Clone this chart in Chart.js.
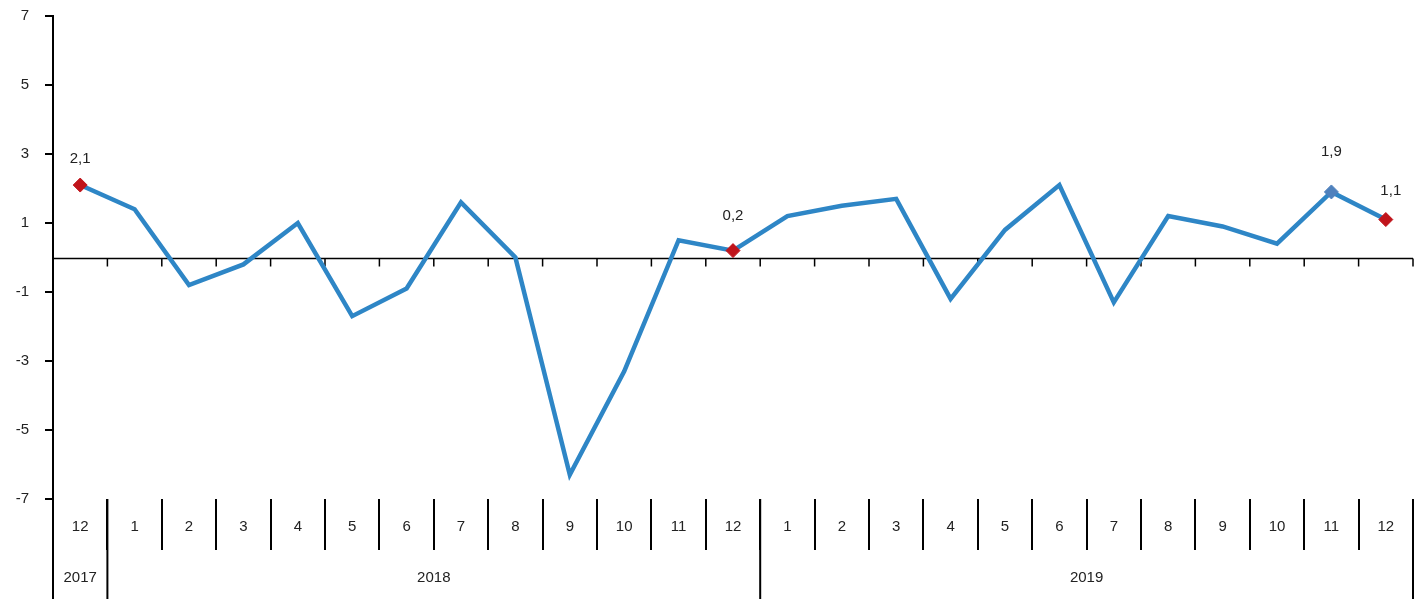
<!DOCTYPE html>
<html>
<head>
<meta charset="utf-8">
<script src="https://cdn.jsdelivr.net/npm/chart.js@4/dist/chart.umd.min.js"></script>
<style>
  html, body { margin: 0; padding: 0; background: #fff; }
  #wrap { width: 1425px; height: 599px; position: relative; }
</style>
</head>
<body>
<div id="wrap"><canvas id="grafico"></canvas></div>
<script>
// months, Dec 2017 .. Dec 2019
const meses = ["12", "1", "2", "3", "4", "5", "6", "7", "8", "9", "10", "11", "12",
               "1", "2", "3", "4", "5", "6", "7", "8", "9", "10", "11", "12"];
const anos = ["2017", "2018", "2019"];
const anoInicio = [0, 1, 13];   // first month index of each year
const valores = [2.1, 1.4, -0.8, -0.2, 1.0, -1.7, -0.9, 1.6, 0.0, -6.3, -3.3, 0.5, 0.2,
                 1.2, 1.5, 1.7, -1.2, 0.8, 2.1, -1.3, 1.2, 0.9, 0.4, 1.9, 1.1];
const destaques = [0, 12, 23, 24];   // points with marker + label

const azul = "#2E86C6";
const vermelho = "#C0141B";
const azulClaro = "#4F81BD";
const fonte = "'Liberation Sans', Arial, sans-serif";

// label offsets above the marker (px)
const offsetRotulo = { 0: 26, 12: 35, 23: 40, 24: 29 };

const corPonto = valores.map((v, i) => i === 23 ? azulClaro : vermelho);
const raioPonto = valores.map((v, i) => destaques.includes(i) ? 7 : 0);

function fronteira(x, i) {
  // pixel between category i and i+1
  if (i >= meses.length - 1) return x.right;
  return (x.getPixelForValue(i) + x.getPixelForValue(i + 1)) / 2;
}

const eixoZero = {
  id: "eixoZero",
  beforeDatasetsDraw(chart) {
    const { ctx, chartArea, scales: { x, y } } = chart;
    const y0 = Math.round(y.getPixelForValue(0)) + 0.5;
    ctx.save();
    ctx.strokeStyle = "#000";
    ctx.lineWidth = 1.5;
    ctx.beginPath();
    ctx.moveTo(chartArea.left, y0);
    ctx.lineTo(chartArea.right, y0);
    for (let i = 0; i < meses.length; i++) {
      const bx = fronteira(x, i);
      ctx.moveTo(bx, y0);
      ctx.lineTo(bx, y0 + 8);
    }
    ctx.stroke();
    ctx.restore();
  },
  afterDraw(chart) {
    const { ctx, chartArea, scales: { x } } = chart;
    const h = chart.height;
    ctx.save();
    ctx.strokeStyle = "#000";
    ctx.lineWidth = 2;
    ctx.beginPath();
    // y axis runs down through the category rows
    ctx.moveTo(chartArea.left, chartArea.bottom);
    ctx.lineTo(chartArea.left, h);
    // year separators
    for (let k = 0; k < anos.length; k++) {
      const fim = k + 1 < anos.length ? anoInicio[k + 1] - 1 : meses.length - 1;
      const bx = fronteira(x, fim);
      ctx.moveTo(bx, chartArea.bottom);
      ctx.lineTo(bx, h);
    }
    ctx.stroke();

    // year labels
    ctx.fillStyle = "#222";
    ctx.font = "15px " + fonte;
    ctx.textAlign = "center";
    ctx.textBaseline = "middle";
    for (let k = 0; k < anos.length; k++) {
      const ini = anoInicio[k];
      const fim = k + 1 < anos.length ? anoInicio[k + 1] - 1 : meses.length - 1;
      const esq = ini === 0 ? chartArea.left : fronteira(x, ini - 1);
      const dir = fronteira(x, fim);
      ctx.fillText(anos[k], (esq + dir) / 2, chartArea.bottom + 79);
    }

    // data labels
    const meta = chart.getDatasetMeta(0);
    ctx.font = "15px " + fonte;
    destaques.forEach(i => {
      const p = meta.data[i];
      const txt = valores[i].toFixed(1).replace(".", ",");
      ctx.fillText(txt, p.x + (i === 24 ? 5 : 0), p.y - offsetRotulo[i]);
    });
    ctx.restore();
  }
};

new Chart(document.getElementById("grafico"), {
  type: "line",
  data: {
    labels: meses,
    datasets: [{
      data: valores,
      borderColor: azul,
      borderWidth: 4.5,
      tension: 0,
      pointStyle: "rectRot",
      pointRadius: raioPonto,
      pointBackgroundColor: corPonto,
      pointBorderColor: corPonto,
      pointBorderWidth: 1,
      pointHoverRadius: raioPonto
    }]
  },
  options: {
    responsive: true,
    maintainAspectRatio: false,
    animation: false,
    layout: { padding: { top: 16, right: 12, left: 0, bottom: 0 } },
    plugins: { legend: { display: false }, tooltip: { enabled: false } },
    scales: {
      x: {
        offset: true,
        afterFit(scale) {
          scale.height = 100;
          scale.paddingLeft = 0;
          scale.paddingRight = 0;
        },
        border: { display: false },
        grid: {
          offset: true,
          drawOnChartArea: false,
          drawTicks: true,
          tickLength: 51,
          color: "#000",
          lineWidth: 2
        },
        ticks: {
          color: "#222",
          font: { family: fonte, size: 15 },
          padding: -32,
          maxRotation: 0,
          autoSkip: false
        }
      },
      y: {
        min: -7,
        max: 7,
        afterFit(scale) {
          scale.width = 53;
          scale.paddingTop = 0;
          scale.paddingBottom = 0;
        },
        border: { display: true, color: "#000", width: 2 },
        grid: {
          drawOnChartArea: false,
          drawTicks: true,
          tickLength: 8,
          color: "#000",
          lineWidth: 2
        },
        ticks: {
          stepSize: 2,
          color: "#222",
          font: { family: fonte, size: 15 },
          padding: 16
        }
      }
    }
  },
  plugins: [eixoZero]
});
</script>
</body>
</html>
